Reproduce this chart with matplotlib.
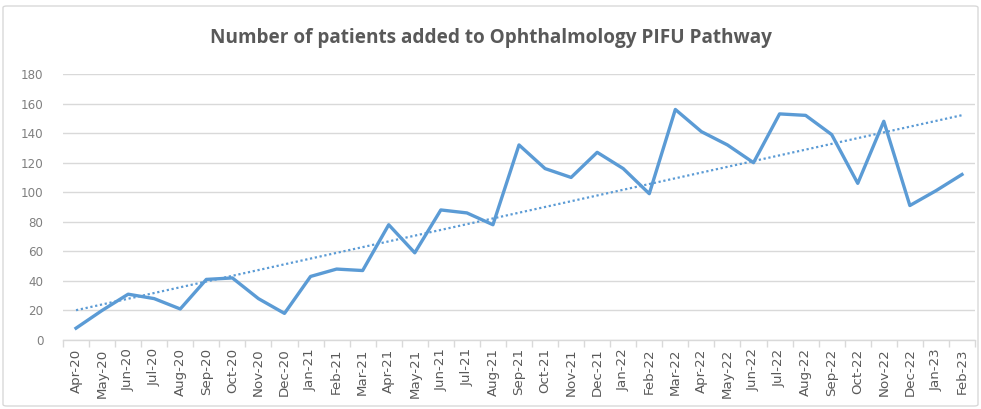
import matplotlib
matplotlib.use("Agg")
import matplotlib.pyplot as plt
import numpy as np
from matplotlib.patches import FancyBboxPatch

months = [
    "Apr-20", "May-20", "Jun-20", "Jul-20", "Aug-20", "Sep-20", "Oct-20", "Nov-20", "Dec-20",
    "Jan-21", "Feb-21", "Mar-21", "Apr-21", "May-21", "Jun-21", "Jul-21", "Aug-21", "Sep-21",
    "Oct-21", "Nov-21", "Dec-21", "Jan-22", "Feb-22", "Mar-22", "Apr-22", "May-22", "Jun-22",
    "Jul-22", "Aug-22", "Sep-22", "Oct-22", "Nov-22", "Dec-22", "Jan-23", "Feb-23",
]
patients = [
    8, 20, 31, 28, 21, 41, 42, 28, 18,
    43, 48, 47, 78, 59, 88, 86, 78, 132,
    116, 110, 127, 116, 99, 156, 141, 132, 120,
    153, 152, 139, 106, 148, 91, 101, 112,
]
y_ticks = [0, 20, 40, 60, 80, 100, 120, 140, 160, 180]

LINE_COLOR = "#5B9BD5"
TEXT_COLOR = "#595959"
GRID_COLOR = "#D9D9D9"

fig = plt.figure(figsize=(9.81, 4.09), dpi=100)
ax = fig.add_axes([63 / 981, 1 - 340 / 409, 912 / 981, 266 / 409])

x = np.arange(len(months))
ax.plot(x, patients, color=LINE_COLOR, linewidth=2.4, solid_joinstyle="round", zorder=3)

# linear trendline, as in Excel
slope, intercept = np.polyfit(x, patients, 1)
ax.plot(x, slope * x + intercept, color=LINE_COLOR, linewidth=1.6,
        linestyle=(0, (1, 1.2)), zorder=2)

ax.set_xlim(-0.5, len(months) - 0.5)
ax.set_ylim(0, 180)
ax.set_yticks(y_ticks)
ax.yaxis.grid(True, color=GRID_COLOR, linewidth=1)
ax.set_axisbelow(True)

ax.set_xticks(x)
ax.set_xticklabels(months, rotation=90, fontsize=9.6, color=TEXT_COLOR,
                   family="DejaVu Sans")
ax.set_xticks(np.arange(-0.5, len(months), 1), minor=True)
ax.tick_params(axis="x", which="major", length=0, pad=6)
ax.tick_params(axis="x", which="minor", length=5, color=GRID_COLOR, width=1)
ax.tick_params(axis="y", length=0, labelsize=8.6, labelcolor="#7F7F7F", pad=14)
for lab in ax.get_yticklabels():
    lab.set_family("DejaVu Sans")

for side in ["top", "right", "left"]:
    ax.spines[side].set_visible(False)
ax.spines["bottom"].set_color(GRID_COLOR)
ax.spines["bottom"].set_linewidth(1)

title = fig.text(0.5, 1 - 38 / 409, "Number of patients added to Ophthalmology PIFU Pathway",
                 ha="center", va="center", fontsize=13, fontweight="bold",
                 color=TEXT_COLOR, family="Open Sans")
# fit the title to the width it has in the original
renderer = fig.canvas.get_renderer()
w = title.get_window_extent(renderer).width
title.set_fontsize(13 * 558 / w)

border = FancyBboxPatch((3 / 981, 3 / 409), 975 / 981, 400 / 409,
                        boxstyle="round,pad=0,rounding_size=0.004",
                        transform=fig.transFigure, fill=False,
                        edgecolor="#D9D9D9", linewidth=1)
fig.patches.append(border)

fig.savefig("out.png", dpi=100)
